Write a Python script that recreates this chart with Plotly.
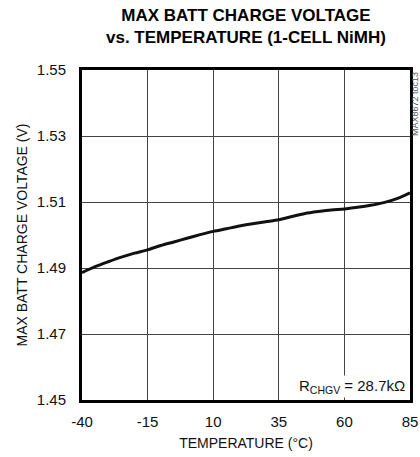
import plotly.graph_objects as go

temperature_c = [-40, -35, -30, -25, -20, -15, -10, -5, 0, 5, 10, 15, 20, 25, 30, 35, 40, 45, 50, 55, 60, 65, 70, 75, 80, 85]
charge_voltage_v = [1.4886, 1.4904, 1.4919, 1.4933, 1.4945, 1.4955, 1.4968, 1.4979, 1.4990, 1.5001, 1.5011, 1.5019, 1.5027, 1.5034, 1.5040, 1.5046, 1.5056, 1.5065, 1.5071, 1.5076, 1.5079, 1.5084, 1.5090, 1.5098, 1.5110, 1.5128]

x_ticks = [-40, -15, 10, 35, 60, 85]
y_ticks = [1.45, 1.47, 1.49, 1.51, 1.53, 1.55]
y_tick_labels = ["1.45", "1.47", "1.49", "1.51", "1.53", "1.55"]

FONT = "Liberation Sans Narrow, Arial Narrow, Liberation Sans, Arial, sans-serif"

L, R, T, B = 82, 10, 70, 57
W, H = 420, 457
PH = H - T - B

fig = go.Figure()
fig.add_trace(go.Scatter(
    x=temperature_c, y=charge_voltage_v, mode="lines",
    line=dict(color="#111111", width=3, shape="spline", smoothing=0.8),
    hoverinfo="skip", showlegend=False,
))

fig.update_layout(
    width=W, height=H,
    margin=dict(l=L, r=R, t=T, b=B, autoexpand=False),
    paper_bgcolor="white", plot_bgcolor="white",
    font=dict(family=FONT, size=15, color="#111111"),
    xaxis=dict(
        range=[-40, 85], tickvals=x_ticks, ticktext=[str(v) for v in x_ticks],
        showgrid=True, gridcolor="#444444", gridwidth=1,
        showline=True, linecolor="#000000", linewidth=3, mirror=True,
        ticks="outside", ticklen=6, tickcolor="rgba(0,0,0,0)",
        zeroline=False, tickfont=dict(size=15), automargin=False,
        title=dict(text="TEMPERATURE (°C)", font=dict(size=14), standoff=10),
    ),
    yaxis=dict(
        range=[1.45, 1.55], tickvals=y_ticks, ticktext=y_tick_labels,
        showgrid=True, gridcolor="#444444", gridwidth=1,
        showline=True, linecolor="#000000", linewidth=3, mirror=True,
        ticks="outside", ticklen=10, tickcolor="rgba(0,0,0,0)",
        zeroline=False, tickfont=dict(size=15), automargin=False,
        title=dict(text="MAX BATT CHARGE VOLTAGE (V)", font=dict(size=14), standoff=6),
    ),
    annotations=[
        dict(text="<b>MAX BATT CHARGE VOLTAGE<br>vs. TEMPERATURE (1-CELL NiMH)</b>",
             x=0.5, y=(PH + T - 4) / PH, xref="paper", yref="paper",
             xanchor="center", yanchor="top", showarrow=False, align="center",
             font=dict(family=FONT, size=17, color="#000000")),
        dict(text="R<sub>CHGV</sub> = 28.7kΩ", x=84, y=1.4505, xref="x", yref="y",
             xanchor="right", yanchor="bottom", showarrow=False,
             bgcolor="white", font=dict(family=FONT, size=15, color="#111111"), borderpad=1),
        dict(text="MAX8672 toc13", x=(415 - L) / (W - L - R), y=1.0, xref="paper", yref="paper",
             xanchor="center", yanchor="top", textangle=-90, showarrow=False,
             font=dict(family=FONT, size=9, color="#555555")),
    ],
)

fig.write_html(
    "out.html",
    config={"displayModeBar": False, "staticPlot": True},
    post_script="document.body.style.margin='0';document.body.style.padding='0';document.documentElement.style.overflow='hidden';",
)
